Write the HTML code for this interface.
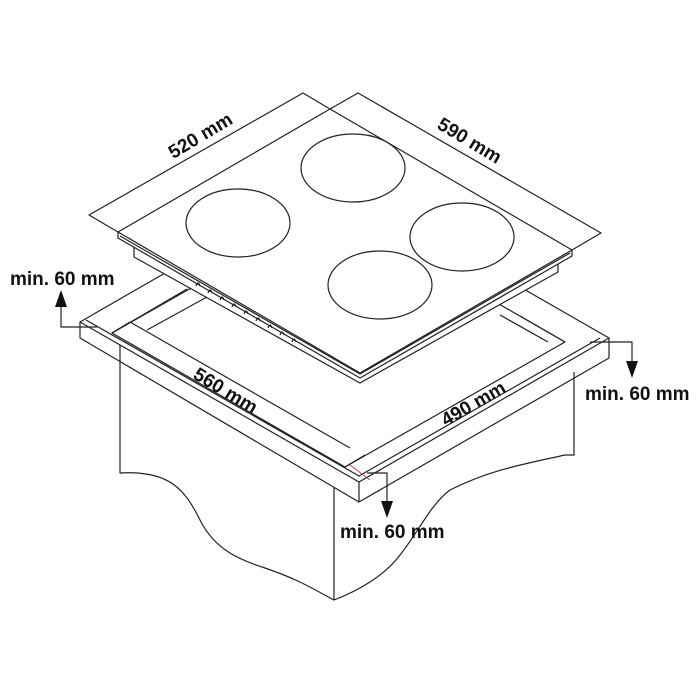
<!DOCTYPE html>
<html><head><meta charset="utf-8"><style>
html,body{margin:0;padding:0;background:#fff;}
svg{display:block}
text{font-family:"Liberation Sans",Arial,sans-serif;font-weight:bold;font-size:19px;fill:#111}
</style></head><body>
<svg width="700" height="700" viewBox="0 0 700 700" xmlns="http://www.w3.org/2000/svg">
<g fill="none" stroke="#222" stroke-width="1.2" stroke-linejoin="round">
<!-- cabinet -->
<path d="M120,338 L120,473 C170,470 185,490 200,520 C215,550 240,560 265,568 C300,580 315,590 334,600 L334,488" fill="#fff"/>
<path d="M334,600 C360,590 385,575 400,555 C420,530 430,505 450,490 C490,470 520,465 565,455 L574,455 L574,372" />
<!-- frame -->
<path d="M80,322 L359,482 L609,338 L330,178 Z" fill="#fff"/>
<path d="M80,322 L80,338 L359,502 L609,358 L609,338"/>
<path d="M359,482 L359,502"/>
<path d="M86,320 L359,476 L600,338"/>
<path d="M112,333 L345,467 L565,342 L332,208 Z"/>
<path d="M130,322 L350,448"/>
<path d="M147,330 L207,297"/>
<path d="M112,333 L187,289"/>
<path d="M548,342 L500,315"/>
<path d="M565,342 L520,316"/>
<path d="M345,467 L365,455"/>
<path d="M112,333 L130,322"/>
<path d="M350,465 L370,480" stroke="#b33" stroke-width="0.8"/>
<!-- hob body -->
<path d="M134,246 L134,257 L360,383 L558,272 L558,260 Z" fill="#fff"/>
<!-- glass -->
<path d="M118,232 L118,238 L360,378 L572,256 L572,250 Z" fill="#fff"/>
<path d="M118,232 L330,109 L572,250 L360,373 Z" fill="#fff"/>
<path d="M120,236 L360,374 L570,253"/>
<!-- notches -->
<path d="M196,286 q2,-6 4,0 M208,293 q2,-6 4,0 M220,300 q2,-6 4,0 M232,307 q2,-6 4,0 M244,314 q2,-6 4,0 M256,321 q2,-6 4,0 M268,328 q2,-6 4,0 M280,335 q2,-6 4,0 M292,342 q2,-6 4,0"/>
<!-- burners -->
<ellipse cx="353" cy="168" rx="52" ry="34"/>
<ellipse cx="238" cy="223" rx="52" ry="34"/>
<ellipse cx="462" cy="237" rx="52" ry="34"/>
<ellipse cx="380" cy="285" rx="52" ry="34"/>
<!-- dimension lines -->
<path d="M118,232 L89,215 L303,93 L330,109"/>
<path d="M330,109 L358,93 L601,233 L572,250"/>
<!-- arrows -->
<path d="M97,327 L61,327 L61,305"/>
<path d="M590,342 L632,342 L632,365"/>
<path d="M367,473 L387,473 L387,503"/>
</g>
<g fill="#111">
<polygon points="61,290 55,307 67,307"/>
<polygon points="632,378 626,361 638,361"/>
<polygon points="387,518 381,501 393,501"/>
</g>
<text x="10" y="285">min. 60 mm</text>
<text x="585" y="400">min. 60 mm</text>
<text x="340" y="538">min. 60 mm</text>
<text x="200" y="142" text-anchor="middle" transform="rotate(-31 200 135)">520 mm</text>
<text x="470" y="147" text-anchor="middle" transform="rotate(31 470 140)">590 mm</text>
<text x="226" y="397" text-anchor="middle" transform="rotate(31 226 390)">560 mm</text>
<text x="473" y="410" text-anchor="middle" transform="rotate(-30 473 403)">490 mm</text>
</svg>
</body></html>
